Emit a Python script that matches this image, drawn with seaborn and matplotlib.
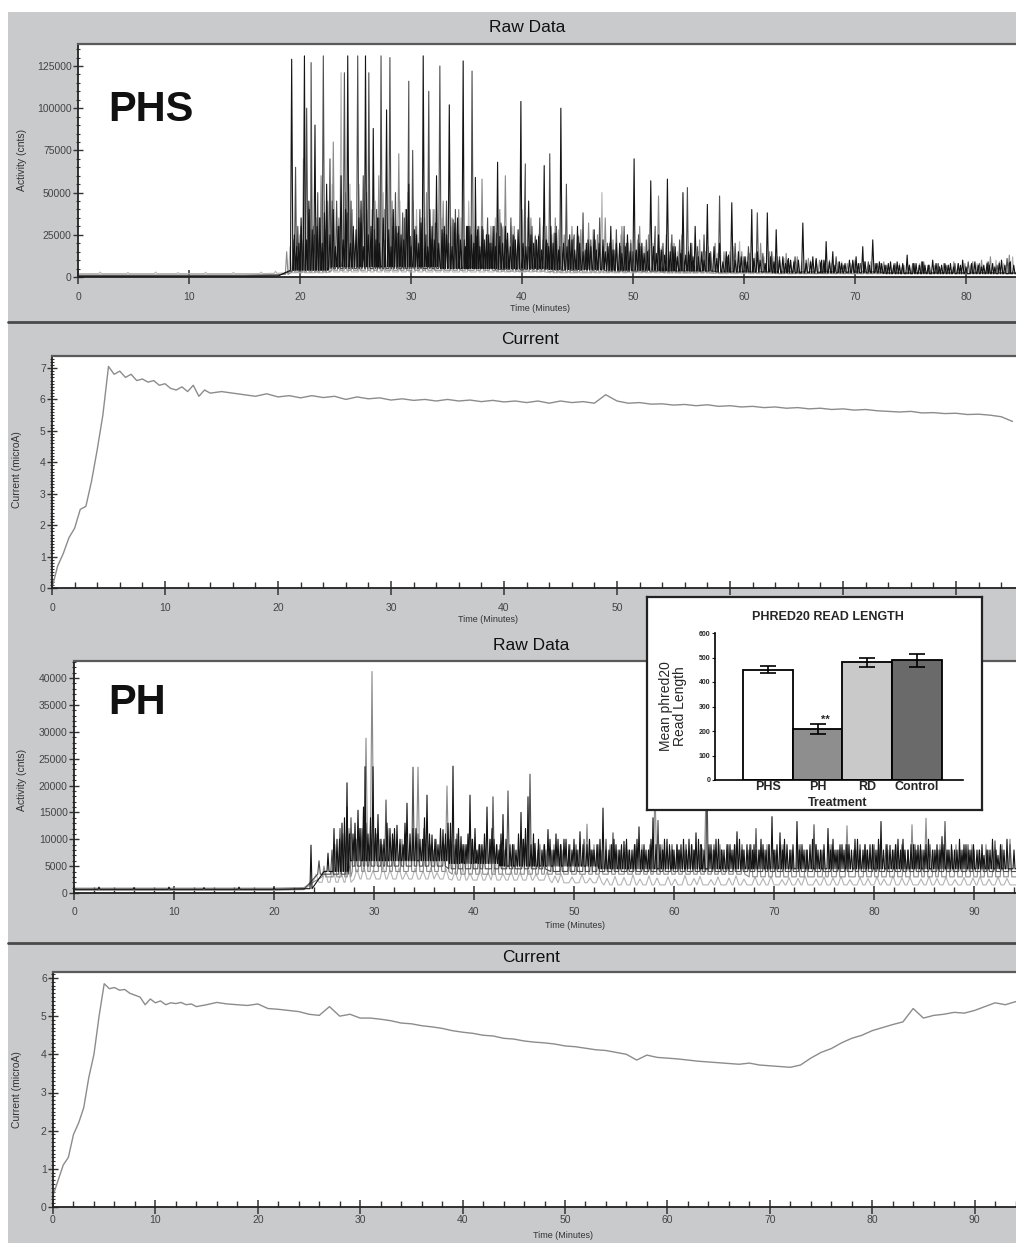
import numpy as np
import pandas as pd
import matplotlib
matplotlib.use("Agg")
import matplotlib.pyplot as plt
import seaborn as sns
from matplotlib.patches import Rectangle
from matplotlib.lines import Line2D
from matplotlib.ticker import MultipleLocator

# ---------------- DATA ----------------
# PHS raw data: four dye traces, peak times (min) and heights (k counts)
phs_a_t = [19.25,19.9,20.4,20.8,21.35,21.8,22.4,23.0,23.7,24.3,24.8,25.5,25.9,26.6,27.0,27.8,28.4,28.9,29.8,30.5,31.1,31.7,32.3,33.0,33.45,34.2,34.7,35.2,35.8,36.4,37.0,37.8,38.5,39.2,39.9,40.6,41.3,42.0,42.6,43.5,44.3,45.0,45.8,46.5,47.3,48.0,48.8,49.5,50.1,50.8,51.6,52.3,53.1,53.8,54.5,55.2,55.6,56.2,56.7,57.3,57.8,58.4,58.9,59.5,60.1,60.7,61.2,62.1,62.9,63.5,64.2,65.3,66.2,67.0,67.4,68.0,68.8,69.5,70.1,70.7,71.6,72.4,73.2,74.0,74.7,75.5,76.3,77.0,77.8,78.6,79.7,80.8,81.6,82.4,83.2,84.0]
phs_a_v = [129,20,131,45,90,35,55,40,60,131,30,45,131,88,35,99,40,30,55,25,131,40,60,30,102,35,128,30,59,30,25,68,30,25,104,45,22,66,30,100,25,30,20,28,22,30,20,25,70,20,57,25,58,18,50,20,30,15,43,18,20,15,44,15,12,40,15,38,28,12,10,32,12,10,21,15,8,10,12,18,22,8,9,7,13,8,7,10,7,8,10,9,7,8,10,9]
phs_a_minor_t = [19.5,19.7,20.1,20.6,21.1,21.55,22.0,22.2,22.7,23.2,23.45,23.9,24.1,24.55,25.05,25.3,25.7,26.15,26.4,26.85,27.15,27.5,28.0,28.2,28.65,29.1,29.35,29.6,30.0,30.3,30.7,30.9,31.35,31.5,31.9,32.1,32.5,32.8,33.2,33.7,33.95,34.45,34.9,35.05,35.45,35.65,36.0,36.2,36.6,36.8,37.2,37.4,37.6,38.0,38.25,38.7,38.95,39.4,39.65,40.1,40.35,40.8,41.05,41.5,41.75,42.2,42.4,42.8,43.05,43.3,43.75,44.05,44.5,44.75,45.2,45.5,45.95,46.2,46.7,46.95,47.5,47.75,48.2,48.5,49.0,49.3,49.75,50.3,50.55,51.0,51.3,51.85,52.1,52.55,52.85,53.35,53.6,54.0,54.3,54.75,55.0,55.4,55.9,56.4,56.9,57.55,58.1,58.6,59.2,59.75,60.3,60.9,61.45,61.9,62.4,62.7,63.2,63.75,64.0,64.5,64.9,65.6,66.0,66.5,66.9,67.2,67.7,68.2,68.6,69.1,69.8,70.3,70.9,71.3,71.9,72.2,72.7,73.0,73.5,73.8,74.3,74.9,75.3,75.8,76.1,76.6,77.3,77.6,78.1,78.4,78.9,79.3,79.5,80.0,80.5,81.1,81.4,81.9,82.1,82.6,83.0,83.5,83.9,84.3]
phs_a_minor_v = [25,18,35,22,28,30,20,38,25,18,30,22,40,20,28,35,18,25,30,22,20,35,28,18,30,25,22,40,18,28,20,32,25,18,30,22,20,28,25,18,32,22,18,30,25,20,28,18,22,25,20,30,18,24,20,26,18,22,28,20,18,25,20,24,16,22,18,20,26,16,20,18,22,16,20,15,22,18,16,20,15,18,16,20,14,18,15,16,20,14,15,18,14,16,13,15,18,12,14,13,15,12,12,10,14,11,9,13,10,12,9,11,10,8,12,9,10,8,11,9,10,8,9,11,8,10,9,7,9,8,10,8,9,7,8,9,7,8,7,9,8,7,8,7,9,7,8,6,8,7,6,8,7,6,8,7,6,8,7,6,8,7,8,7]
phs_b_t = [19.6,20.1,20.6,21.0,21.6,22.1,22.7,23.3,24.0,24.6,25.2,25.7,26.2,26.9,27.3,28.1,28.6,29.4,29.8,30.15,30.8,31.6,32.6,33.2,34.0,35.5,36.1,36.9,37.5,38.2,39.0,40.3,40.9,41.6,42.5,43.1,44.0,44.7,45.5,46.2,47.0,47.7,48.5,49.2,49.8,50.5,51.2,52.0,52.7,53.5,54.2,54.9,55.8,56.4,57.0,57.8,58.5,59.2,60.0,60.4,61.2,61.7,62.5,63.2,63.9,64.6,65.6,66.5,67.3,68.3,69.0,69.8,70.5,71.2,72.0,72.8,73.6,74.3,75.2,76.0,76.7,77.5,78.2,79.0,80.2,81.2,82.0,82.8,83.7]
phs_b_v = [65,30,100,127,50,131,70,45,121,45,131,60,121,40,131,130,50,35,116,75,40,110,125,45,40,122,30,35,30,28,35,67,30,35,73,30,55,25,38,22,35,20,28,30,20,25,22,30,20,25,22,53,18,25,15,48,12,20,12,18,38,14,15,12,10,12,10,10,9,12,7,9,8,9,8,7,8,7,8,9,7,8,7,8,9,8,9,7,11]
phs_b_minor_t = [19.8,20.3,20.85,21.3,21.75,22.35,22.9,23.55,24.25,24.8,25.45,26.0,26.7,27.1,27.65,28.35,28.8,29.25,29.95,30.45,31.0,31.8,32.2,32.9,33.4,33.8,34.3,34.8,35.3,35.9,36.5,37.1,37.7,38.1,38.6,39.3,39.7,40.2,40.6,41.2,41.9,42.3,42.9,43.4,44.2,44.6,45.1,45.7,46.0,46.6,47.3,47.9,48.3,48.9,49.4,50.0,50.7,51.4,51.9,52.4,53.0,53.7,54.4,55.1]
phs_b_minor_v = [30,22,40,25,35,28,45,30,38,25,32,40,28,35,22,30,26,38,24,30,28,22,32,26,20,34,25,22,30,24,28,20,26,32,22,24,20,28,18,24,22,20,26,18,22,20,24,16,20,22,18,20,16,18,20,15,18,16,14,17,15,14,16,13]
phs_c_t = [18.8,19.4,20.0,20.7,21.2,21.9,22.5,23.0,23.5,24.1,24.7,25.3,26.0,26.5,27.1,27.6,28.3,28.9,29.5,30.2,30.9,31.4,32.0,32.9,33.7,34.3,35.0,35.8,36.4,37.2,38.0,38.5,39.3,40.0,40.8,41.5,42.2,43.0,43.8,44.5,45.3,46.0,46.8,47.5,48.2,49.0,49.8,50.6,51.4,52.3,53.0,53.7,54.4,55.3,56.0,56.5,57.4,58.2,59.0,59.8,60.5,61.5,62.3,63.0,63.8,64.8,65.8,66.8,67.7,68.5,69.3,70.0,70.9,71.8,72.6,73.5,74.4,75.3,76.2,77.2,78.0,78.9,79.9,80.6,81.4,82.2,83.0,83.9]
phs_c_v = [15,22,25,40,30,60,45,80,35,50,40,55,50,40,60,40,45,73,40,45,35,50,40,45,35,40,30,30,58,30,40,60,30,40,35,25,30,35,25,30,28,32,25,35,22,30,22,30,25,48,25,20,25,20,22,15,20,15,18,15,14,20,15,12,14,12,11,10,10,9,8,10,9,8,9,8,7,8,9,7,8,9,8,9,10,12,9,13]
phs_d_t = [2.0,4.5,7.0,9.0,11.5,14.0,16.5,17.8,19.1,20.3,21.5,22.2,22.9,23.7,24.5,25.4,26.2,26.8,27.5,28.2,29.0,29.7,30.5,31.2,32.1,32.8,33.6,34.5,35.2,36.0,36.8,37.6,38.3,39.1,39.6,40.5,41.2,41.9,42.7,43.3,44.2,45.1,46.4,47.2,48.0,48.9,49.6,50.4,51.0,51.8,52.6,53.4,54.0,55.0,55.9,56.8,57.6,58.7,59.6,60.3,61.0,61.8,62.7,63.6,64.5,65.2,66.0,67.0,67.9,68.8,69.6,70.4,71.4,72.3,73.0,74.0,74.9,75.8,76.6,77.4,78.4,79.3,80.4,81.0,81.9,82.7,83.4,84.2]
phs_d_v = [2.9,2.7,2.9,2.6,2.8,2.7,2.9,3.4,18,70,35,45,55,121,55,40,55,45,50,35,45,50,40,35,40,35,30,35,45,30,25,35,30,30,20,35,25,30,25,28,20,25,28,50,20,25,20,22,18,20,18,20,15,18,15,18,14,15,21,12,14,12,12,11,10,9,10,9,8,9,8,8,9,8,7,8,7,8,7,8,7,8,7,8,9,10,8,12]
# floor (valley) levels, k counts, at these times
phs_floor_t = [0,5,10,15,18,20,25,30,35,40,45,50,55,60,65,70,75,80,85]
phs_floor_a = [0.3,0.3,0.3,0.3,0.5,4,6,6,5,5,4.5,4,3.5,3,2.5,2.5,2,2,2]
phs_floor_b = [0.8,0.8,0.8,0.8,1.0,4,5,5,5,4.5,4,3.5,3.5,3,3,3,2.5,2.5,2.5]
phs_floor_c = [1.2,1.2,1.2,1.2,1.5,3,4,4,4,3.5,3,3,2.5,2.5,2,2,2,2,2]
phs_floor_d = [2.0,2.0,2.0,2.0,2.2,2.5,3,3,3,3,2.5,2.5,2.5,2,2,2,2,2,2]

# PH raw data
ph_a_t = [2.5,6.0,9.5,13.0,16.5,20.0,23.7,25.4,26.3,26.8,27.3,27.9,28.4,29.1,29.9,30.4,31.0,31.6,32.3,32.9,33.3,33.9,34.6,35.3,35.8,36.4,36.9,37.4,37.9,38.7,39.2,39.6,40.3,40.8,41.3,42.0,42.5,42.9,43.6,44.2,44.7,45.4,46.1,46.8,47.4,48.0,48.4,49.2,49.8,50.6,51.3,52.0,52.9,53.5,54.2,55.0,55.8,56.5,57.2,57.9,58.6,59.3,60.0,60.7,61.5,62.2,62.8,63.5,64.2,65.0,65.6,66.3,67.0,67.6,68.2,68.9,69.8,70.6,71.3,72.3,73.0,73.6,74.4,75.4,76.1,76.8,77.5,78.1,78.9,79.6,80.7,81.6,82.4,83.1,83.7,84.4,85.2,86.1,86.8,87.5,88.3,89.0,89.7,90.3,91.0,91.6,92.4,93.3,94.0]
ph_a_v = [1.1,1.0,1.1,1.0,1.1,1.0,8.9,7.4,10,13,20.5,11,15.4,23.5,23.5,14.6,10,12,12.6,9,16.7,12,10,18.2,10.8,9,11.8,13,23.6,10.5,9,18.2,8,9,16,10,8,14.6,9,8,15,17.9,9.2,8,11.8,8,10,10,8,11.4,9,8,15.8,8,9,9.6,8,12.3,8,14,9,10,8,9,10,11.2,8,9,10,8,9,11.4,8,9,8,9,14.2,11.2,9,13.3,8,9,8,12,8,9,9,10,8,9,13.3,8.9,10,8,9,8.9,9,8,10.5,8,8,9,8,8,7,8,7,10,8]
ph_a_minor_t = [26.0,26.55,27.05,27.55,28.1,28.6,28.95,29.4,29.65,30.15,30.7,31.3,31.85,32.05,32.6,33.1,33.6,34.2,34.85,35.05,35.55,36.1,36.65,37.15,37.65,38.2,38.45,38.9,39.4,39.85,40.1,40.55,41.05,41.6,41.8,42.25,42.7,43.2,43.85,44.45,44.95,45.15,45.7,45.95,46.45,47.05,47.6,48.2,48.65,49.0,49.5,50.0,50.3,50.9,51.55,51.8,52.3,52.6,53.2,53.75,54.0,54.5,54.75,55.25,55.55,56.05,56.3,56.75,57.0,57.45,57.7,58.2,58.85,59.05,59.55,59.85,60.3,60.5,60.95,61.25,61.75,62.0,62.45,62.7,63.0,63.7,64.0,64.45,64.75,65.3,65.8,66.05,66.55,66.8,67.3,67.85,68.0,68.5,68.7,69.2,69.5,70.0,70.3,70.85,71.05,71.6,71.9,72.55,72.8,73.3,73.85,74.2,74.65,75.0,75.65,75.9,76.3,76.6,77.0,77.3,77.75,78.35,78.6,79.1,79.35,79.85,80.2,80.45,80.95,81.3,81.85,82.15,82.65,82.9,83.4,83.95,84.2,84.65,85.0,85.45,85.85,86.3,86.6,87.0,87.3,87.75,88.05,88.55,88.8,89.2,89.5,89.95,90.55,90.8,91.3,91.85,92.2,92.65,93.0,93.55,93.85]
ph_a_minor_v = [12,10,14,11,13,12,16,11,14,12,10,13,11,12,10,13,11,12,10,14,11,10,12,11,13,10,12,9,11,10,12,9,11,10,12,9,11,10,9,11,10,12,9,11,10,9,10,11,9,10,9,10,8,9,10,8,9,10,8,9,10,8,9,10,8,9,10,8,9,8,10,9,8,10,9,8,9,8,10,8,9,8,10,9,8,9,8,10,8,9,8,9,10,8,9,8,9,8,10,8,9,8,9,8,10,8,9,8,9,8,10,9,8,9,8,10,8,9,8,9,8,10,8,9,8,9,8,10,8,9,8,9,8,10,8,9,8,9,8,10,8,9,8,9,8,9,8,10,8,9,8,9,8,9,8,10,8,9,8]
ph_b_t = [24.5,25.8,26.6,27.3,27.7,28.2,28.8,29.2,29.6,30.2,30.8,31.2,31.9,32.6,33.1,33.9,34.4,35.0,35.6,36.2,37.0,37.6,38.3,39.0,39.8,40.5,41.0,41.9,42.6,43.4,44.0,44.9,45.6,46.4,47.0,47.8,48.7,49.5,50.2,51.0,51.7,52.4,53.2,53.9,54.6,55.4,56.1,56.9,57.6,58.4,59.0,59.8,60.5,61.2,62.0,62.7,63.3,64.0,64.8,65.4,66.0,66.8,67.5,68.2,69.0,69.5,70.2,71.0,71.8,72.6,73.3,74.0,74.8,75.8,76.5,77.2,78.0,78.6,79.3,80.0,80.4,81.2,82.0,82.8,83.4,84.1,84.8,85.6,86.4,87.1,87.8,88.6,89.4,90.0,90.8,91.4,92.1,92.8,93.6]
ph_b_v = [6,8,12,16,14,10,12,13,9,11,9,17.3,10,9,11,23.4,11,12,9,10,9,10,11,9,10,9,8,17.9,9,19,9,10,22.1,8,9,8,9,8,9,10,8,9,10,11.2,8,8,9,8,9,13.5,8,9,8,9,8,9,20,9,8,9,8,9,8,12,8,9,8,9,8,9,8,12.7,8,9,8,9,8,9,8,9,8,9,8,9,8,9,8,9,8,13.3,8,8,9,8,7,8,9.7,8,9]
ph_c_t = [25.0,26.1,26.9,27.5,28.0,28.6,29.2,29.8,30.6,31.4,32.0,32.8,33.6,34.4,35.1,35.9,36.6,37.3,38.0,38.5,39.3,40.0,40.7,41.6,42.3,43.0,43.9,44.5,45.2,46.0,46.6,47.2,48.0,48.8,49.6,50.4,51.3,52.0,52.7,53.6,54.3,55.2,56.0,56.8,57.5,58.1,58.8,59.6,60.3,61.0,61.8,62.5,63.2,63.9,64.6,65.3,66.1,66.9,67.7,68.5,69.3,70.0,70.8,71.6,72.4,73.2,74.2,75.0,75.6,76.4,77.3,78.3,79.1,79.9,80.6,81.4,82.2,83.0,83.8,84.6,85.2,86.0,86.6,87.4,88.2,89.0,89.8,90.5,91.2,92.0,92.8,93.6]
ph_c_v = [5,9,11,12,10,12,28.8,41.2,10,12,9,10,9,23.4,9,8,9,19.9,9,8,9,8,9,10,9,8,9,8,9,8,9,8,9,8,9,8,12.8,9,8,9,8,9,8,9,8,20,9,8,9,8,9,8,19,8,9,8,9,8,9,8,9,8,9,8,9,8,9,8,9,8,12.5,8,9,8,9,8,9,8,12.7,8,13.9,8,9,8,9,8,9,8,9,8,9,10]
ph_d_t = [24.2,25.1,25.9,26.7,27.4,28.3,29.0,29.9,30.9,31.6,32.5,33.2,34.1,34.9,35.7,36.3,37.2,38.1,38.9,39.6,40.6,41.4,42.0,42.9,43.7,44.6,45.5,46.2,47.3,48.1,48.7,49.8,50.8,51.6,52.5,53.3,54.1,55.0,55.9,56.6,57.5,58.3,59.4,60.1,61.1,62.0,62.6,63.7,64.4,65.5,66.2,67.0,68.1,68.9,69.7,70.8,71.5,72.4,73.1,74.2,75.0,75.9,76.7,77.6,78.6,79.4,80.3,81.0,81.9,82.8,83.6,84.7,85.5,86.3,87.2,88.1,89.0,89.9,90.6,91.5,92.4,93.3]
ph_d_v = [3.5,4.2,4.8,4.0,5.1,4.4,4.9,4.2,5.0,4.3,4.7,3.9,4.6,4.1,4.8,3.8,4.5,4.0,4.6,3.7,4.4,3.9,4.5,3.6,4.2,3.8,4.3,3.5,3.9,3.2,3.6,3.0,3.4,2.8,3.3,2.7,3.1,2.9,3.4,2.6,3.2,2.8,3.0,2.6,3.3,2.7,3.1,2.5,3.0,2.8,3.2,2.6,3.0,2.7,3.1,2.5,2.9,2.7,3.2,2.6,3.0,2.8,3.1,2.5,2.9,2.7,3.0,2.6,3.2,2.8,2.9,2.6,3.1,2.7,3.0,2.5,2.9,2.8,3.1,2.6,3.0,2.7]
ph_floor_t = [0,5,10,15,20,23,25,30,35,40,45,50,55,60,65,70,75,80,85,90,95]
ph_floor_a = [0.7,0.7,0.7,0.7,0.7,0.8,4,6,6,5.5,5,5,4.5,4.5,4.5,4.5,4.5,4.5,4.5,4.5,4.5]
ph_floor_b = [0.6,0.6,0.6,0.6,0.6,0.7,3.5,5,5,4.5,4.5,4,4,4,4,4,4,4,4,4,4]
ph_floor_c = [0.9,0.9,0.9,0.9,0.9,1.0,3,4,4,3.5,3.5,3.5,3.5,3.5,3.5,3,3,3,3,3,3]
ph_floor_d = [0.5,0.5,0.5,0.5,0.5,0.6,2,2.6,2.6,2.4,2.4,1.9,1.5,1.5,1.5,1.5,1.5,1.5,1.5,1.5,1.5]

# Current traces (microA)
phs_cur_ramp_t = [0,0.5,1,1.5,2,2.5,3,3.5,4,4.5,5,5.5,6,6.5,7,7.5,8,8.5,9,9.5,10,10.5,11,11.5,12,12.5,13,13.5,14]
phs_cur_ramp_v = [0.0,0.7,1.1,1.6,1.9,2.5,2.6,3.4,4.4,5.5,7.05,6.8,6.9,6.7,6.8,6.6,6.65,6.55,6.6,6.45,6.5,6.35,6.3,6.4,6.25,6.45,6.1,6.3,6.2]
phs_cur_v = [6.25,6.2,6.15,6.1,6.18,6.08,6.12,6.05,6.12,6.06,6.1,6.0,6.08,6.02,6.05,5.98,6.02,5.97,6.0,5.95,6.0,5.95,5.98,5.93,5.97,5.92,5.95,5.9,5.95,5.88,5.95,5.9,5.93,5.88,6.15,5.95,5.88,5.9,5.85,5.86,5.82,5.84,5.8,5.83,5.78,5.8,5.76,5.78,5.74,5.76,5.72,5.74,5.7,5.72,5.68,5.7,5.66,5.68,5.64,5.62,5.6,5.62,5.57,5.58,5.55,5.56,5.52,5.53,5.5,5.45,5.3]
ph_cur_ramp_t = [0,0.5,1,1.5,2,2.5,3,3.5,4,4.5,5,5.5,6,6.5,7,7.5,8,8.5,9,9.5,10,10.5,11,11.5,12,12.5,13,13.5,14]
ph_cur_ramp_v = [0.3,0.7,1.1,1.3,1.9,2.2,2.6,3.4,4.0,5.0,5.85,5.72,5.75,5.68,5.7,5.6,5.55,5.5,5.3,5.45,5.35,5.4,5.3,5.35,5.33,5.36,5.3,5.32,5.25]
ph_cur_v = [5.3,5.36,5.32,5.3,5.28,5.32,5.2,5.18,5.15,5.12,5.05,5.02,5.25,5.0,5.05,4.95,4.95,4.92,4.88,4.82,4.8,4.75,4.72,4.68,4.62,4.58,4.55,4.5,4.48,4.42,4.4,4.35,4.32,4.3,4.27,4.22,4.2,4.16,4.12,4.1,4.05,4.0,3.85,3.98,3.92,3.9,3.88,3.85,3.82,3.8,3.78,3.76,3.74,3.77,3.72,3.7,3.68,3.66,3.72,3.9,4.05,4.15,4.3,4.42,4.5,4.62,4.7,4.78,4.85,5.2,4.95,5.02,5.05,5.1,5.08,5.15,5.25,5.35,5.3,5.38,5.4]

# Inset bar chart
treatments = ["PHS", "PH", "RD", "Control"]
read_len = [450, 208, 480, 488]
read_err = [15, 22, 20, 25]
bar_colors = ["#ffffff", "#8e8e8e", "#c9c9c9", "#6a6a6a"]

# ---------------- FIGURE ----------------
sns.set_theme(style="white")
plt.rcParams["font.family"] = ["Liberation Sans", "DejaVu Sans"]

W, H = 1016, 1243
fig = plt.figure(figsize=(W / 100, H / 100), dpi=100)
fig.patch.set_facecolor("white")
BG = "#c9cacc"
fig.add_artist(Rectangle((8 / W, 0), 1, 1 - 12 / H, transform=fig.transFigure,
                         facecolor=BG, edgecolor="none", zorder=-10))
for yy in (322, 943):
    fig.add_artist(Line2D([8 / W, 1], [1 - yy / H] * 2, transform=fig.transFigure,
                          color="#4a4a4a", lw=2))


def ax_px(x0, y0, x1, y1):
    return fig.add_axes([x0 / W, 1 - y1 / H, (x1 - x0) / W, (y1 - y0) / H])


def ftext(x, y, s, **kw):
    fig.text(x / W, 1 - y / H, s, **kw)


def style(ax, xmax, ymax, ymaj, ymin, xminor, pad):
    ax.set_facecolor("white")
    ax.set_xlim(0, xmax)
    ax.set_ylim(0, ymax)
    ax.spines["right"].set_visible(False)
    ax.spines["top"].set_color("#5a5a5a")
    ax.spines["top"].set_linewidth(1.6)
    for s in ("left", "bottom"):
        ax.spines[s].set_color("#222222")
        ax.spines[s].set_linewidth(1.3)
    ax.xaxis.set_major_locator(MultipleLocator(10))
    if xminor:
        ax.xaxis.set_minor_locator(MultipleLocator(2))
    ax.yaxis.set_major_locator(MultipleLocator(ymaj))
    ax.yaxis.set_minor_locator(MultipleLocator(ymin))
    ax.tick_params(axis="x", which="major", direction="inout", length=10, width=1.1,
                   color="#333333", labelcolor="#444444", labelsize=7.5, pad=pad,
                   bottom=True)
    ax.tick_params(axis="x", which="minor", direction="in", length=4, width=1.0,
                   color="#333333", bottom=True)
    ax.tick_params(axis="y", which="major", direction="inout", length=7, width=1.0,
                   color="#333333", labelcolor="#444444", labelsize=7.5, pad=1, left=True)
    ax.tick_params(axis="y", which="minor", direction="inout", length=3.5, width=0.8,
                   color="#333333", left=True)
    ax.set_xlabel("")
    ax.set_ylabel("")
    ax.grid(False)


def spike_frame(groups, floor_t, xmax):
    rows = []
    ft = np.asarray(floor_t, float)
    for name, pt, pv, fv, half in groups:
        fv = np.asarray(fv, float)
        pairs = sorted(zip(pt, pv))
        pk_t = np.array([p[0] for p in pairs])
        pts = []
        for t0, f0 in zip(ft, fv):
            if t0 <= xmax and (len(pk_t) == 0 or np.min(np.abs(pk_t - t0)) > 2 * half):
                pts.append((t0, f0))
        for t, v in pairs:
            f = fv[np.abs(ft - t).argmin()]
            pts += [(t - half, f), (t, v), (t + half, f)]
        pts.sort(key=lambda p: p[0])
        xs = [p[0] for p in pts]
        ys = [p[1] * 1000 for p in pts]
        rows.append(pd.DataFrame({"t": xs, "v": ys, "trace": name}))
    return pd.concat(rows, ignore_index=True)


trace_pal = {"D": "#b4b4b4", "C": "#8a8a8a", "B": "#4e4e4e", "A": "#141414"}

# ---- Panel 1: PHS raw data
ax1 = ax_px(78, 44, 1016, 277)
x1max = (1016 - 78) / 11.1
df1 = spike_frame([("D", phs_d_t, phs_d_v, phs_floor_d, 0.12),
                   ("C", phs_c_t, phs_c_v, phs_floor_c, 0.12),
                   ("B", phs_b_t + phs_b_minor_t, phs_b_v + phs_b_minor_v, phs_floor_b, 0.11),
                   ("A", phs_a_t + phs_a_minor_t, phs_a_v + phs_a_minor_v, phs_floor_a, 0.11)],
                  phs_floor_t, 90)
sns.lineplot(data=df1, x="t", y="v", hue="trace", palette=trace_pal, estimator=None,
             sort=False, lw=0.8, legend=False, ax=ax1)
style(ax1, x1max, 125000 * 233 / 211, 25000, 5000, False, 6)
ftext(22, 160, "Activity (cnts)", rotation=90, ha="center", va="center", fontsize=7.5, color="#333333")
ftext(540, 309, "Time (Minutes)", ha="center", va="center", fontsize=6.5, color="#333333")
ftext(527, 28, "Raw Data", ha="center", va="center", fontsize=12.5, color="#111111")
ftext(108, 110, "PHS", ha="left", va="center", fontsize=30, fontweight="bold", color="#111111")

# ---- Panel 2: PHS current
ax2 = ax_px(52, 356, 1016, 588)
x2max = (1016 - 52) / 11.3
df2 = pd.DataFrame({"t": list(phs_cur_ramp_t) + list(15 + np.arange(len(phs_cur_v))),
                    "v": list(phs_cur_ramp_v) + list(phs_cur_v)})
sns.lineplot(data=df2, x="t", y="v", color="#8c8c8c", lw=1.0, estimator=None, ax=ax2)
style(ax2, x2max, 7 * 232 / 220, 1, 0.1, True, 6)
ftext(17, 470, "Current (microA)", rotation=90, ha="center", va="center", fontsize=7.5, color="#333333")
ftext(488, 620, "Time (Minutes)", ha="center", va="center", fontsize=6.5, color="#333333")
ftext(530, 340, "Current", ha="center", va="center", fontsize=12.5, color="#111111")

# ---- Panel 3: PH raw data
ax3 = ax_px(74, 661, 1016, 893)
x3max = (1016 - 74) / 10.0
df3 = spike_frame([("D", ph_d_t, ph_d_v, ph_floor_d, 0.3),
                   ("C", ph_c_t, ph_c_v, ph_floor_c, 0.18),
                   ("B", ph_b_t, ph_b_v, ph_floor_b, 0.13),
                   ("A", ph_a_t + ph_a_minor_t, ph_a_v + ph_a_minor_v, ph_floor_a, 0.1)],
                  ph_floor_t, 100)
sns.lineplot(data=df3, x="t", y="v", hue="trace", palette=trace_pal, estimator=None,
             sort=False, lw=0.8, legend=False, ax=ax3)
style(ax3, x3max, 40000 * 232 / 215, 5000, 1000, True, 5)
ftext(22, 780, "Activity (cnts)", rotation=90, ha="center", va="center", fontsize=7.5, color="#333333")
ftext(575, 925, "Time (Minutes)", ha="center", va="center", fontsize=6.5, color="#333333")
ftext(531, 645, "Raw Data", ha="center", va="center", fontsize=12.5, color="#111111")
ftext(108, 703, "PH", ha="left", va="center", fontsize=30, fontweight="bold", color="#111111")

# ---- Panel 4: PH current
ax4 = ax_px(53, 972, 1016, 1207)
x4max = (1016 - 53) / 10.24
df4 = pd.DataFrame({"t": list(ph_cur_ramp_t) + list(15 + np.arange(len(ph_cur_v))),
                    "v": list(ph_cur_ramp_v) + list(ph_cur_v)})
sns.lineplot(data=df4, x="t", y="v", color="#8c8c8c", lw=1.0, estimator=None, ax=ax4)
style(ax4, x4max, 6 * 235 / 229, 1, 0.1, True, 1)
ftext(17, 1090, "Current (microA)", rotation=90, ha="center", va="center", fontsize=7.5, color="#333333")
ftext(563, 1236, "Time (Minutes)", ha="center", va="center", fontsize=6.5, color="#333333")
ftext(531, 957, "Current", ha="center", va="center", fontsize=12.5, color="#111111")

# ---- Inset
axb = ax_px(647, 597, 982, 810)
axb.set_facecolor("white")
axb.set_xticks([])
axb.set_yticks([])
for s in axb.spines.values():
    s.set_visible(True)
    s.set_color("#222222")
    s.set_linewidth(1.6)
axb.set_zorder(5)

axi = ax_px(715, 633, 963, 780)
axi.set_zorder(6)
axi.patch.set_alpha(0)
sns.barplot(x=treatments, y=read_len, hue=treatments, palette=bar_colors, dodge=False,
            width=1.0, edgecolor="black", linewidth=1.3, errorbar=None, legend=False, ax=axi)
axi.errorbar(range(len(treatments)), read_len, yerr=read_err, fmt="none",
             ecolor="black", elinewidth=1.2, capsize=6, capthick=1.2)
axi.set_xlim(-1.06, 3.92)
axi.set_ylim(0, 600)
axi.yaxis.set_major_locator(MultipleLocator(100))
for s in ("top", "right"):
    axi.spines[s].set_visible(False)
for s in ("left", "bottom"):
    axi.spines[s].set_visible(True)
    axi.spines[s].set_color("black")
    axi.spines[s].set_linewidth(1.2)
axi.tick_params(axis="y", left=True, direction="out", length=2.5, width=0.8,
                labelsize=5, pad=1)
for lab in axi.get_yticklabels():
    lab.set_fontweight("bold")
axi.tick_params(axis="x", bottom=False, length=0, labelsize=9, pad=0.5)
for lab in axi.get_xticklabels():
    lab.set_fontweight("bold")
axi.set_xlabel("")
axi.set_ylabel("Mean phred20\nRead Length", fontsize=10, labelpad=8, linespacing=1.0)
axi.text(1.15, 245, "**", fontsize=8, fontweight="bold", ha="center", va="center")
ftext(828, 617, "PHRED20 READ LENGTH", ha="center", va="center", fontsize=9,
      fontweight="bold", zorder=10)
ftext(838, 803, "Treatment", ha="center", va="center", fontsize=9,
      fontweight="bold", zorder=10)

fig.savefig("out.png", dpi=100, facecolor=fig.get_facecolor())
